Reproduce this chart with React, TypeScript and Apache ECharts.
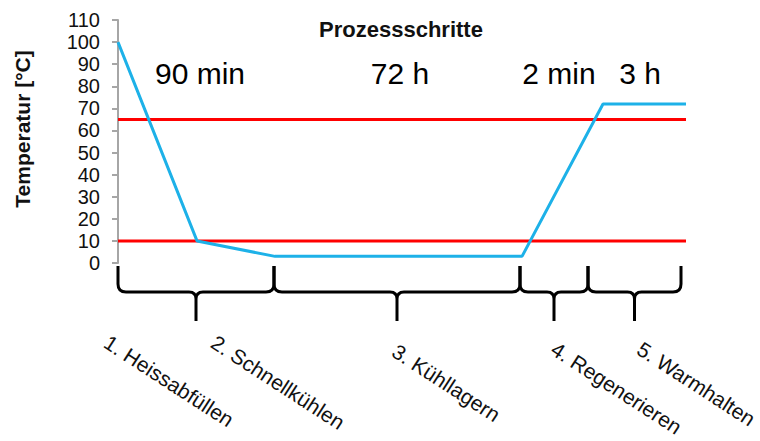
import React, { useEffect, useRef } from "react";
import * as echarts from "echarts";

// Process course (x = position along the process, y = temperature in °C)
const processX = [0, 79, 157, 404, 485, 568];
const temperature = [100, 10, 3, 3, 72, 72];
const limitHigh = 65;
const limitLow = 10;
const yTicks = [0, 110, 10]; // min, max, interval

// Braces below the axis (start, end along the process)
const braceStart = [0, 156, 402, 470];
const braceEnd = [156, 402, 470, 563];

// Duration annotations
const durations = ["90 min", "72 h", "2 min", "3 h"];
const durationAt = [82, 282, 441, 522];
const durationTemp = [86, 86, 86, 86];

// Process steps
const steps = [
  "1. Heissabfüllen",
  "2. Schnellkühlen",
  "3. Kühllagern",
  "4. Regenerieren",
  "5. Warmhalten",
];
const stepLabelAt = [-6, 101, 282, 441, 527];
const stepLabelTemp = [-31, -31, -35, -34, -34];

const FONT = "'Liberation Sans', Arial, sans-serif";

export default function App() {
  const ref = useRef<HTMLDivElement>(null);
  useEffect(() => {
    if (!ref.current) return;
    const chart = echarts.init(ref.current, null, { renderer: "svg" });
    const rot = (-33 * Math.PI) / 180;
    chart.setOption({
      animation: false,
      textStyle: { fontFamily: FONT },
      grid: { left: 118, right: 74, top: 20, bottom: 178 },
      xAxis: {
        type: "value",
        min: processX[0],
        max: processX[processX.length - 1],
        show: false,
      },
      yAxis: {
        type: "value",
        min: yTicks[0],
        max: yTicks[1],
        interval: yTicks[2],
        axisLine: { show: true, lineStyle: { color: "#a6a6a6", width: 2 } },
        axisTick: { show: true, length: 6, lineStyle: { color: "#a6a6a6", width: 2 } },
        splitLine: { show: false },
        axisLabel: { color: "#111", fontSize: 20, margin: 18, fontFamily: FONT },
      },
      graphic: [
        {
          type: "text",
          x: 401,
          y: 29,
          style: {
            text: "Prozessschritte",
            fill: "#111",
            font: `bold 22px ${FONT}`,
            align: "center",
            verticalAlign: "middle",
          },
        },
        {
          type: "text",
          x: 22,
          y: 129,
          rotation: Math.PI / 2,
          style: {
            text: "Temperatur [°C]",
            fill: "#111",
            font: `bold 21px ${FONT}`,
            align: "center",
            verticalAlign: "middle",
          },
        },
      ],
      series: [
        {
          type: "line",
          data: [
            [processX[0], limitHigh],
            [processX[processX.length - 1], limitHigh],
          ],
          symbol: "none",
          lineStyle: { color: "#ff0000", width: 3 },
          z: 2,
        },
        {
          type: "line",
          data: [
            [processX[0], limitLow],
            [processX[processX.length - 1], limitLow],
          ],
          symbol: "none",
          lineStyle: { color: "#ff0000", width: 3 },
          z: 2,
        },
        {
          type: "line",
          data: processX.map((x, i) => [x, temperature[i]]),
          symbol: "none",
          lineStyle: { color: "#1db1e8", width: 3 },
          z: 3,
        },
        {
          type: "custom",
          clip: false,
          data: braceStart.map((s, i) => [s, braceEnd[i]]),
          renderItem: (params: any, api: any) => {
            const s = api.coord([api.value(0), 0]);
            const e = api.coord([api.value(1), 0]);
            const x0 = s[0];
            const x1 = e[0];
            const xm = (x0 + x1) / 2;
            const b = s[1];
            const top = b + 3;
            const h = b + 29;
            const tip = b + 58;
            const d =
              `M${x0} ${top} L${x0} ${h - 8} Q${x0} ${h} ${x0 + 8} ${h} ` +
              `L${xm - 7} ${h} Q${xm} ${h} ${xm} ${h + 7} L${xm} ${tip} ` +
              `M${xm} ${h + 7} Q${xm} ${h} ${xm + 7} ${h} ` +
              `L${x1 - 8} ${h} Q${x1} ${h} ${x1} ${h - 8} L${x1} ${top}`;
            return {
              type: "path",
              shape: { pathData: d },
              style: { stroke: "#000", lineWidth: 3, fill: "none" },
            };
          },
        },
        {
          type: "custom",
          clip: false,
          data: durations.map((_, i) => [durationAt[i], durationTemp[i]]),
          renderItem: (params: any, api: any) => {
            const p = api.coord([api.value(0), api.value(1)]);
            return {
              type: "text",
              x: p[0],
              y: p[1],
              style: {
                text: durations[params.dataIndex],
                fill: "#000",
                font: `30px ${FONT}`,
                align: "center",
                verticalAlign: "middle",
              },
            };
          },
        },
        {
          type: "custom",
          clip: false,
          data: steps.map((_, i) => [stepLabelAt[i], stepLabelTemp[i]]),
          renderItem: (params: any, api: any) => {
            const p = api.coord([api.value(0), api.value(1)]);
            return {
              type: "text",
              x: p[0],
              y: p[1],
              rotation: rot,
              style: {
                text: steps[params.dataIndex],
                fill: "#111",
                font: `21px ${FONT}`,
                align: "left",
                verticalAlign: "top",
              },
            };
          },
        },
      ],
    });
    return () => chart.dispose();
  }, []);
  return (
    <div
      ref={ref}
      style={{ position: "fixed", left: 0, top: 0, width: 760, height: 441, background: "#fff" }}
    />
  );
}
